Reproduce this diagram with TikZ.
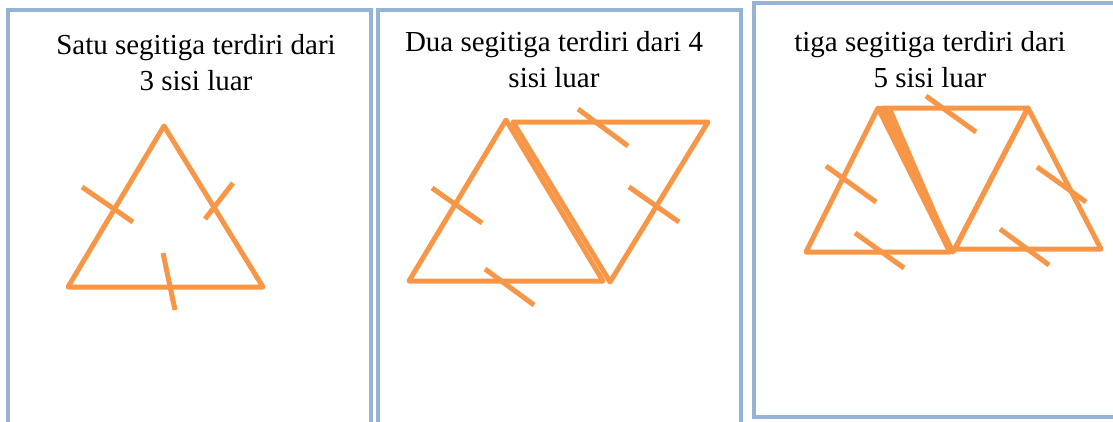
\documentclass[tikz,border=0pt]{standalone}
\usepackage{fontspec}
\setmainfont{Liberation Serif}
\definecolor{panelblue}{RGB}{149,179,215}
\definecolor{sisiorange}{RGB}{247,150,70}
\tikzset{
  panel/.style={draw=panelblue, line width=3pt},
  sisi/.style={draw=sisiorange, line width=3.75pt, line join=round, line cap=round},
  coret/.style={draw=sisiorange, line width=3.75pt,
                preaction={draw=black!35, opacity=0.35, transform canvas={shift={(0.8pt,-1pt)}}}},
  judul/.style={align=center, inner sep=0pt, anchor=north, font=\fontsize{21.75}{27}\selectfont},
}

\begin{document}
\begin{tikzpicture}[x=0.75pt, y=-0.75pt]
    \useasboundingbox (0,0) rectangle (1113,421);
    \begin{scope}
      \clip (0,0) rectangle (1113,421);
      \draw[panel] (8,10) rectangle (371,440);
      \draw[panel] (378,10) rectangle (741,440);
      \draw[panel] (754,3) rectangle (1125,417);
    \end{scope}
    \node[judul] (judul1) at (196,34) {Satu segitiga terdiri dari\\3 sisi luar};
    \node[judul] (judul2) at (554,31) {Dua segitiga terdiri dari 4\\sisi luar};
    \node[judul] (judul3) at (930,31) {tiga segitiga terdiri dari\\5 sisi luar};
    % satu segitiga
    \coordinate (a1) at (164,126); \coordinate (b1) at (68,287); \coordinate (c1) at (263,287);
    \draw[sisi] (a1) -- (b1) -- (c1) -- cycle;
    \draw[coret] (82,187) -- (133,222);
    \draw[coret] (233,183) -- (205,219);
    \draw[coret] (163,253) -- (175,310);
    % dua segitiga
    \coordinate (a2) at (506,120); \coordinate (b2) at (409,281); \coordinate (c2) at (603,281);
    \coordinate (d2) at (513,122); \coordinate (e2) at (708,122); \coordinate (f2) at (610,282);
    \draw[sisi] (a2) -- (b2) -- (c2) -- cycle;
    \draw[sisi] (d2) -- (e2) -- (f2) -- cycle;
    \draw[coret] (578,109) -- (628,146);
    \draw[coret] (629,187) -- (679,222);
    \draw[coret] (432,188) -- (482,223);
    \draw[coret] (485,269) -- (534,305);
    % tiga segitiga
    \coordinate (a3) at (878,108); \coordinate (b3) at (806,252); \coordinate (c3) at (950,252);
    \coordinate (d3) at (882,108); \coordinate (e3) at (1028,108); \coordinate (f3) at (953,252);
    \coordinate (g3) at (955,249); \coordinate (h3) at (1101,249);
    \fill[sisiorange] (877,106) -- (891,106) -- (954,252) -- (947,252) -- cycle;
    \draw[sisi] (a3) -- (b3) -- (c3) -- cycle;
    \draw[sisi] (d3) -- (e3) -- (f3) -- cycle;
    \draw[sisi] (e3) -- (g3) -- (h3) -- cycle;
    \draw[coret] (926,96) -- (976,132);
    \draw[coret] (826,166) -- (876,202);
    \draw[coret] (855,233) -- (904,268);
    \draw[coret] (1037,167) -- (1086,202);
    \draw[coret] (1000,229) -- (1049,265);
\end{tikzpicture}
\end{document}
